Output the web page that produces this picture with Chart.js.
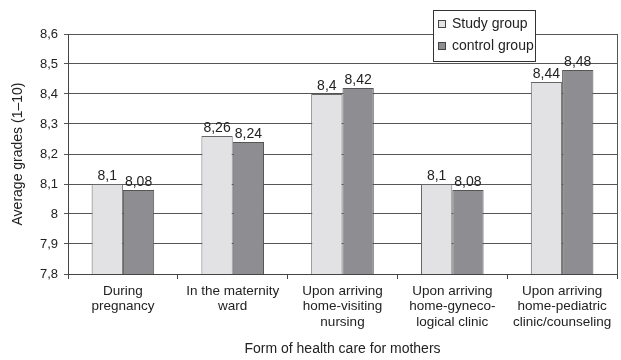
<!DOCTYPE html>
<html>
<head>
<meta charset="utf-8">
<script src="https://cdn.jsdelivr.net/npm/chart.js@4.4.1/dist/chart.umd.min.js"></script>
<style>
  html, body { margin: 0; padding: 0; background: #ffffff; }
  #wrap { width: 621px; height: 360px; }
</style>
</head>
<body>
<div id="wrap"><canvas id="c" width="621" height="360"></canvas></div>
<script>
// Forms of care (multi-line labels)
const categories = [
  ["During", "pregnancy"],
  ["In the maternity", "ward"],
  ["Upon arriving", "home-visiting", "nursing"],
  ["Upon arriving", "home-gyneco-", "logical clinic"],
  ["Upon arriving", "home-pediatric", "clinic/counseling"]
];
const seriesNames = ["Study group", "control group"];
const studyGroup = [8.10, 8.26, 8.40, 8.10, 8.44];
const controlGroup = [8.08, 8.24, 8.42, 8.08, 8.48];
const yTicks = [7.8, 7.9, 8.0, 8.1, 8.2, 8.3, 8.4, 8.5, 8.6];

const FONT = "'Liberation Sans', Arial, sans-serif";
const fmt = v => String(Math.round(v * 100) / 100).replace('.', ',');

// Value labels above each bar
const valueLabels = {
  id: 'valueLabels',
  afterDatasetsDraw(chart) {
    const ctx = chart.ctx;
    ctx.save();
    ctx.font = '14px ' + FONT;
    ctx.fillStyle = '#222';
    ctx.textAlign = 'center';
    ctx.textBaseline = 'bottom';
    chart.data.datasets.forEach((ds, i) => {
      chart.getDatasetMeta(i).data.forEach((bar, j) => {
        ctx.fillText(fmt(ds.data[j]), bar.x, bar.y - 1);
      });
    });
    ctx.restore();
  }
};

// Right frame line and boxed legend
const frameAndLegend = {
  id: 'frameAndLegend',
  afterDraw(chart) {
    const ctx = chart.ctx;
    const a = chart.chartArea;
    ctx.save();
    ctx.strokeStyle = '#555';
    ctx.lineWidth = 1;
    ctx.beginPath();
    ctx.moveTo(Math.round(a.right) + 0.5, a.top);
    ctx.lineTo(Math.round(a.right) + 0.5, a.bottom);
    ctx.stroke();

    // legend box
    const bx = 433, by = 10, bw = 102, bh = 51;
    ctx.fillStyle = '#fff';
    ctx.fillRect(bx, by, bw, bh);
    ctx.strokeStyle = '#333';
    ctx.strokeRect(bx + 0.5, by + 0.5, bw, bh);
    ctx.font = '14px ' + FONT;
    ctx.textBaseline = 'middle';
    ctx.textAlign = 'left';
    chart.data.datasets.forEach((ds, i) => {
      const cy = by + 14 + i * 22;
      ctx.fillStyle = ds.backgroundColor;
      ctx.fillRect(bx + 5, cy - 4, 8, 8);
      ctx.strokeStyle = '#444';
      ctx.strokeRect(bx + 5.5, cy - 3.5, 7, 7);
      ctx.fillStyle = '#222';
      ctx.fillText(ds.label, bx + 19, cy);
    });
    ctx.restore();
  }
};

new Chart(document.getElementById('c'), {
  type: 'bar',
  data: {
    labels: categories,
    datasets: [
      {
        label: seriesNames[0],
        data: studyGroup,
        backgroundColor: '#e2e2e4',
        borderColor: '#666',
        borderWidth: 1,
        categoryPercentage: 0.57,
        barPercentage: 1.0
      },
      {
        label: seriesNames[1],
        data: controlGroup,
        backgroundColor: '#8e8e92',
        borderColor: '#555',
        borderWidth: 1,
        categoryPercentage: 0.57,
        barPercentage: 1.0
      }
    ]
  },
  options: {
    responsive: false,
    animation: false,
    events: [],
    layout: { padding: { top: 34, right: 4, left: 0, bottom: 0 } },
    plugins: { legend: { display: false }, tooltip: { enabled: false } },
    scales: {
      x: {
        grid: { display: true, drawOnChartArea: false, drawTicks: true, tickLength: 5, color: '#444', offset: true },
        border: { display: true, color: '#444', width: 1 },
        ticks: {
          color: '#222',
          font: { family: FONT, size: 13.5, lineHeight: 1.12 },
          maxRotation: 0,
          autoSkip: false,
          padding: 5
        },
        title: {
          display: true,
          text: 'Form of health care for mothers',
          color: '#222',
          font: { family: FONT, size: 14 },
          padding: { top: 8, bottom: 2 }
        },
        afterFit(s) { s.height = 86; }
      },
      y: {
        min: 7.8,
        max: 8.6,
        afterBuildTicks(s) { s.ticks = yTicks.map(v => ({ value: v })); },
        grid: { color: '#555', lineWidth: 1, drawTicks: true, tickLength: 4 },
        border: { display: true, color: '#444', width: 1 },
        ticks: {
          color: '#222',
          font: { family: FONT, size: 13 },
          padding: 6,
          callback: v => fmt(v)
        },
        title: {
          display: true,
          text: 'Average grades (1–10)',
          color: '#222',
          font: { family: FONT, size: 14 },
          padding: { top: 10, bottom: 6 }
        },
        afterFit(s) { s.width = 68; }
      }
    }
  },
  plugins: [valueLabels, frameAndLegend]
});
</script>
</body>
</html>
